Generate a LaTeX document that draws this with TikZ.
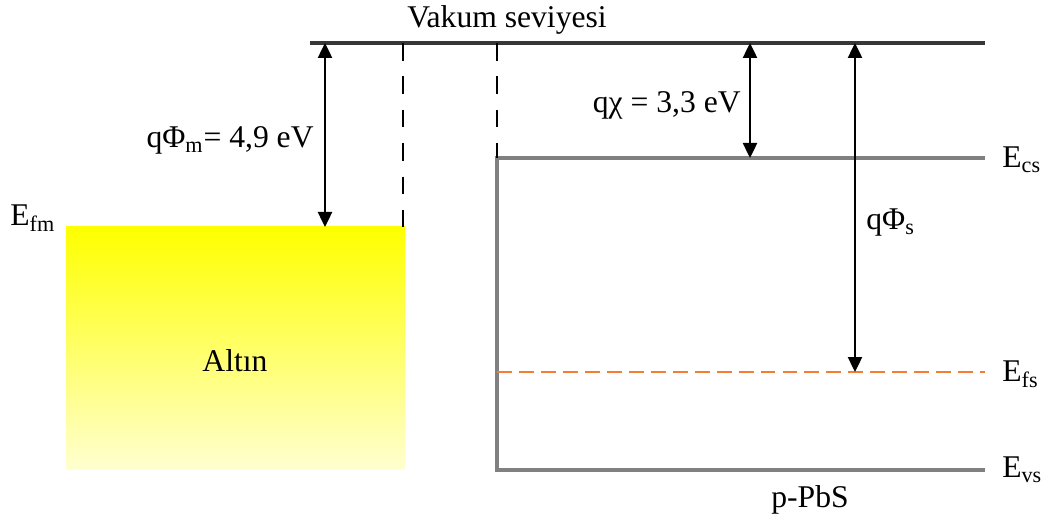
\documentclass[tikz,border=0pt]{standalone}
\usepackage{fontspec}
\setmainfont{Liberation Serif}
\usetikzlibrary{arrows.meta}
\definecolor{bandgray}{RGB}{128,128,128}
\definecolor{vacgray}{RGB}{55,55,55}
\definecolor{fermiorange}{RGB}{245,125,50}
\definecolor{goldmid}{RGB}{255,255,155}
\definecolor{goldpale}{RGB}{255,255,208}
\begin{document}
\begin{tikzpicture}[
    x=0.02cm, y=-0.02cm,
    every node/.style={font=\fontsize{18}{21}\selectfont, inner sep=0pt},
    level/.style={line width=2.3pt, vacgray},
    band/.style={line width=2.3pt, bandgray, line join=miter},
    fermi/.style={line width=1.2pt, fermiorange, dash pattern=on 8.5pt off 4pt},
    guide/.style={line width=0.9pt, black, dash pattern=on 10pt off 9pt},
    arrow/.style={line width=1.4pt, {Triangle[length=0.3cm,width=0.28cm]}-{Triangle[length=0.3cm,width=0.28cm]}}
]
\useasboundingbox (0,0) rectangle (1049,523);

% level coordinates
\coordinate (vacL) at (310,43);
\coordinate (vacR) at (985,43);
\coordinate (ecsL) at (497,158);
\coordinate (ecsR) at (985,158);
\coordinate (evsL) at (497,470);
\coordinate (evsR) at (985,470);
\coordinate (efsL) at (497,372);
\coordinate (efsR) at (985,372);

% metal
\shade[top color=yellow, middle color=goldmid, bottom color=goldpale] (66,227) rectangle (405,470);
\node (metal) [anchor=base] at (235,372) {Altın};

% vacuum level
\draw [level] (vacL) -- (vacR);
\node (vac) [anchor=base] at (507,28) {Vakum seviyesi};

% semiconductor bands
\draw [band] (ecsR) -- (ecsL) -- (evsL) -- (evsR);
\draw [fermi] (efsL) -- (efsR);

% guides
\coordinate (gm1) at (403,43);
\coordinate (gm2) at (403,227);
\draw [guide] (gm1) -- (gm2);
\draw [guide] (ecsL |- vacL) -- (ecsL);

% energies
\coordinate (phimT) at (325,43);
\coordinate (phimB) at (325,227);
\draw [arrow] (phimT) -- (phimB);
\coordinate (chiT) at (750,43);
\coordinate (chiB) at (750,158);
\draw [arrow] (chiT) -- (chiB);
\coordinate (phisT) at (855,43);
\coordinate (phisB) at (855,372);
\draw [arrow] (phisT) -- (phisB);

% labels
\node (phim) [anchor=base east] at (314,148) {qΦ\textsubscript{m}= 4,9 eV};
\node (chi)  [anchor=base east] at (741,113) {qχ = 3,3 eV};
\node (phis) [anchor=base west] at (866,230) {qΦ\textsubscript{s}};
\node (efm)  [anchor=base west] at (10,226) {E\textsubscript{fm}};
\node (ecs)  [anchor=base west] at (1002,168) {E\textsubscript{cs}};
\node (efs)  [anchor=base west] at (1002,382) {E\textsubscript{fs}};
\node (evs)  [anchor=base west] at (1002,478) {E\textsubscript{vs}};
\node (pbs)  [anchor=base] at (810,508) {p-PbS};
\end{tikzpicture}
\end{document}
